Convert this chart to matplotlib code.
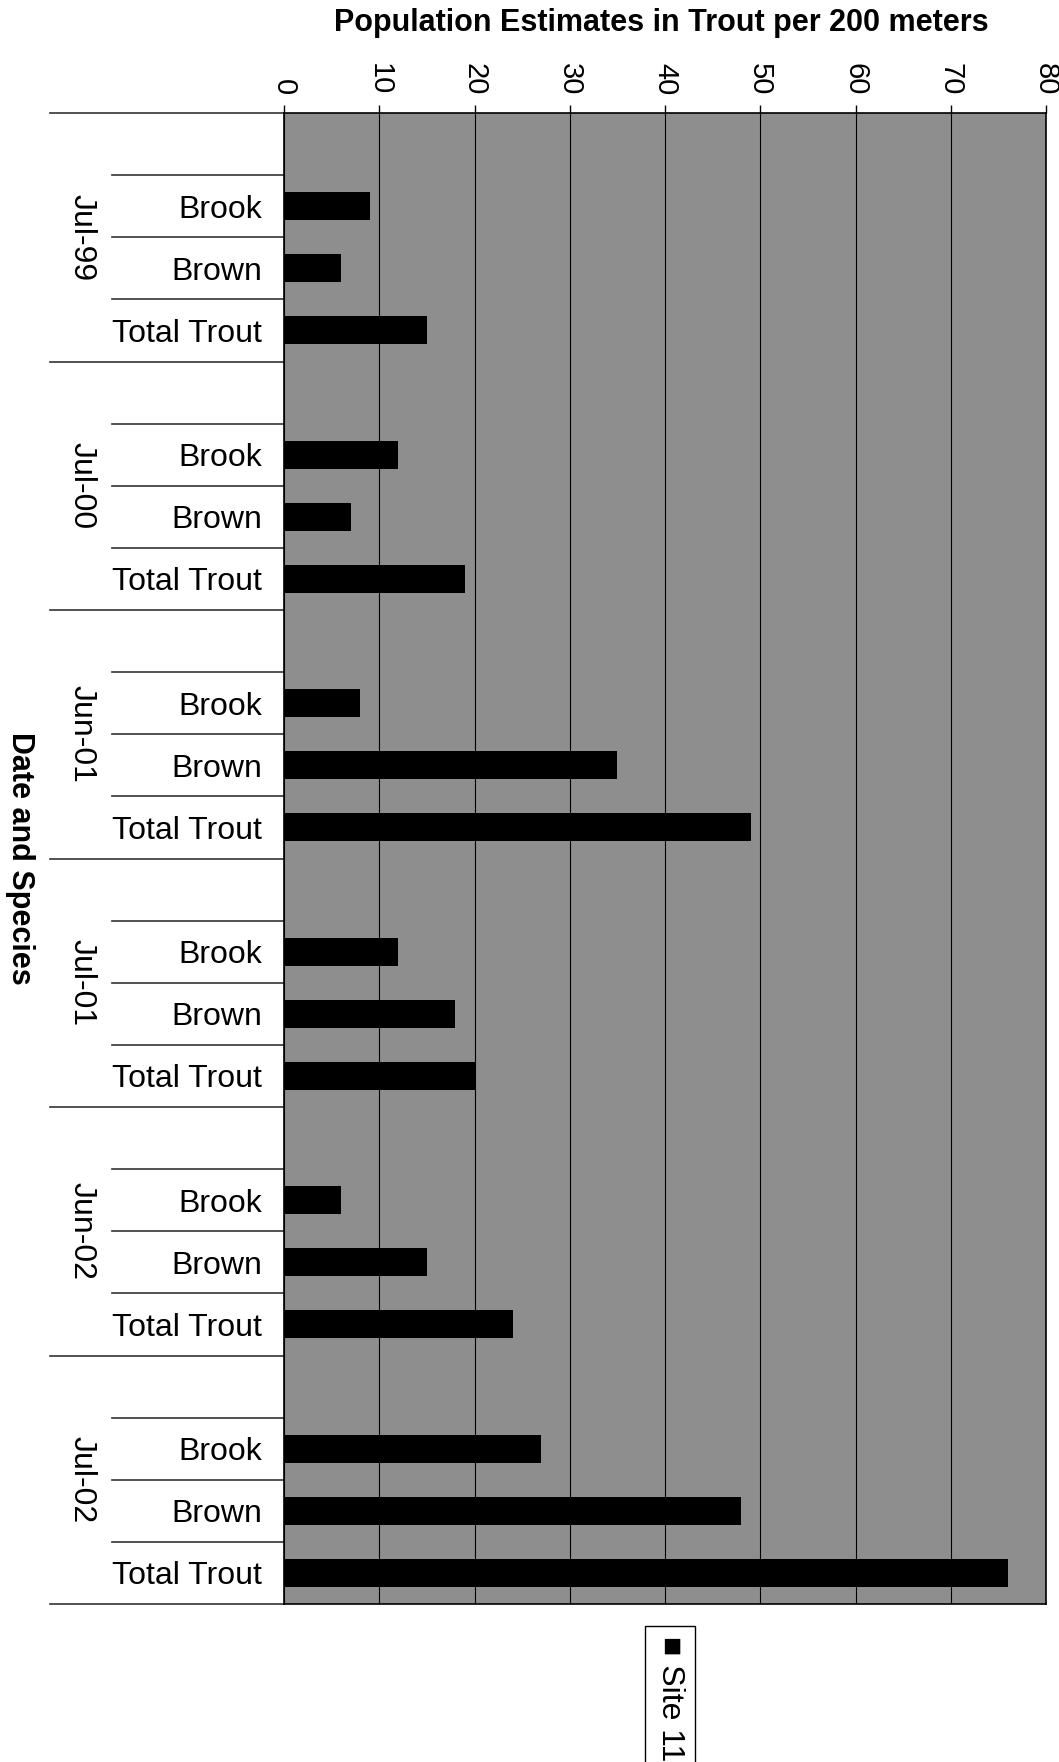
import numpy as np
import matplotlib.pyplot as plt
from matplotlib.transforms import blended_transform_factory

DATES = ["Jul-99", "Jul-00", "Jun-01", "Jul-01", "Jun-02", "Jul-02"]
SPECIES = ["Brook", "Brown", "Total Trout"]
BROOK = [9, 12, 8, 12, 6, 27]
BROWN = [6, 7, 35, 18, 15, 48]
TOTAL = [15, 19, 49, 20, 24, 76]
X_TICKS = [0, 10, 20, 30, 40, 50, 60, 70, 80]

plt.rcParams["font.family"] = ["Liberation Sans", "DejaVu Sans"]

W, H = 1059, 1762
fig = plt.figure(figsize=(W / 100, H / 100), dpi=100)
ax = fig.add_axes([284 / W, 1 - 1604 / H, 762 / W, (1604 - 113) / H])
ax.set_facecolor("#8e8e8e")

# each date group gets 4 slots: one blank, then the three species
SLOTS = 4
n_slots = len(DATES) * SLOTS
pos, vals, labels = [], [], []
for g, date in enumerate(DATES):
    for k, (name, series) in enumerate(zip(SPECIES, [BROOK, BROWN, TOTAL])):
        pos.append(g * SLOTS + k + 1.5)
        vals.append(series[g])
        labels.append(name)

ax.barh(pos, vals, height=0.45, color="black", label="Site 11", zorder=3)
ax.set_xlim(0, 80)
ax.set_ylim(n_slots, 0)

ax.xaxis.tick_top()
ax.set_xticks(X_TICKS)
ax.tick_params(axis="x", labelsize=21, length=6, width=1, pad=7, labelrotation=270)
ax.set_yticks(pos)
ax.set_yticklabels(labels)
ax.tick_params(axis="y", labelsize=23, length=0, pad=16)
ax.grid(axis="x", color="black", lw=0.8, zorder=1)
ax.set_axisbelow(True)
for s in ax.spines.values():
    s.set_color("black")
    s.set_linewidth(1.2)

trans = blended_transform_factory(ax.transAxes, ax.transData)
for i in range(n_slots + 1):
    x0 = -0.307 if i % SLOTS == 0 else -0.226
    ax.plot([x0, 0], [i, i], transform=trans, color="#333333", lw=1.2, clip_on=False)

for g, date in enumerate(DATES):
    ax.text(-0.266, g * SLOTS + 2, date, transform=trans, rotation=270,
            ha="center", va="center", fontsize=23)

ax.text(-0.346, 0.5, "Date and Species", transform=ax.transAxes, rotation=270,
        ha="center", va="center", fontsize=22, fontweight="bold")

fig.text(661 / W, 1 - 23 / H, "Population Estimates in Trout per 200 meters",
         ha="center", va="center", fontsize=22, fontweight="bold")

fig.text(670 / W, 1 - 1636 / H, "\u25a0 Site 11", rotation=270, ha="center", va="top",
         fontsize=23, bbox=dict(boxstyle="square,pad=0.3", fc="white", ec="black", lw=1))

fig.savefig("out.png", dpi=100)
